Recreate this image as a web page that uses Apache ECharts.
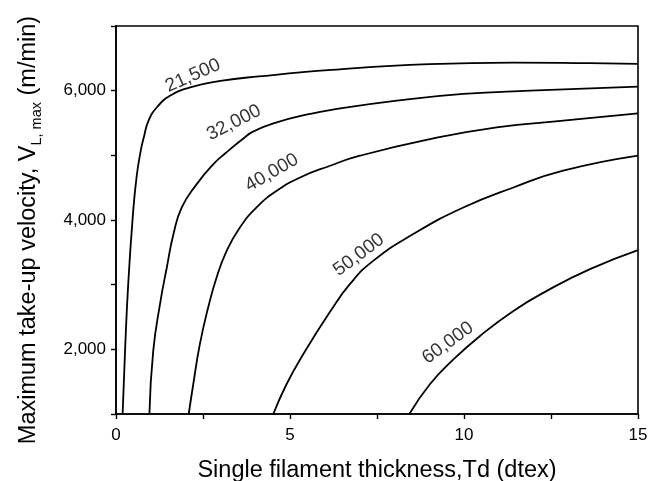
<!DOCTYPE html>
<html>
<head>
<meta charset="utf-8">
<script src="https://cdn.jsdelivr.net/npm/echarts@6/dist/echarts.min.js"></script>
<style>
    html, body { margin: 0; padding: 0; background: #fff; }
    #chart { width: 650px; height: 481px; }
</style>
</head>
<body>
<div id="chart"></div>
<script>
// curve values: [Td (dtex), V (m/min)]
var curveNames = ['21,500', '32,000', '40,000', '50,000', '60,000'];
var c21500 = [[0.19, 1000], [0.26, 1975], [0.35, 3000], [0.48, 4040], [0.59, 4660], [0.71, 5070], [0.8, 5280], [0.93, 5530], [1.17, 5740], [1.55, 5920], [2.13, 6050], [3.0, 6150], [4.1, 6220], [6.2, 6320], [9.0, 6410], [11.4, 6435], [13.6, 6425], [15, 6415]];
var c32000 = [[0.96, 1000], [1.07, 1975], [1.28, 2750], [1.46, 3265], [1.65, 3780], [1.89, 4195], [2.32, 4555], [2.8, 4865], [3.16, 5040], [3.66, 5260], [3.95, 5370], [4.62, 5510], [5.57, 5640], [6.15, 5700], [8.07, 5845], [9.98, 5949], [11.9, 6000], [15, 6062]];
var c40000 = [[2.09, 1000], [2.22, 1460], [2.41, 2080], [2.65, 2650], [2.89, 3110], [3.18, 3523], [3.56, 3884], [4.04, 4195], [4.62, 4452], [5.29, 4658], [6.15, 4839], [7.01, 4994], [9.02, 5250], [10.94, 5432], [12.85, 5536], [15, 5650]];
var c50000 = [[4.52, 1000], [4.9, 1460], [5.38, 1924], [6.15, 2580], [6.72, 3008], [7.39, 3368], [8.54, 3782], [9.98, 4193], [11.42, 4503], [12.85, 4762], [15, 4994]];
var c60000 = [[8.43, 1000], [9.02, 1460], [9.69, 1840], [10.46, 2207], [11.42, 2594], [12.38, 2904], [13.62, 3240], [15, 3534]];
var curves = [c21500, c32000, c40000, c50000, c60000];

// where each curve label sits, and its slope in degrees
var labelAt = [[2.21, 6232], [3.39, 5505], [4.48, 4731], [6.98, 3461], [9.54, 2099]];
var labelAngle = [24, 27, 30, 37, 36];

var xTicks = [0, 5, 10, 15];
var yTicks = [2000, 4000, 6000];

var chart = echarts.init(document.getElementById('chart'));
var font = 'Liberation Sans';

var series = curves.map(function(c, i) {
    return {
        name: curveNames[i],
        type: 'line',
        data: c,
        showSymbol: false,
        smooth: 0.5,
        lineStyle: { color: '#000', width: 1.8 },
        silent: true,
        z: 3
    };
});

series.push({
    type: 'scatter',
    symbolSize: 0,
    silent: true,
    data: labelAt.map(function(p, i) {
        return {
            value: p,
            name: curveNames[i],
            label: { rotate: labelAngle[i] }
        };
    }),
    label: {
        show: true,
        position: 'inside',
        formatter: '{b}',
        color: '#000',
        fontSize: 19,
        fontFamily: font
    },
    z: 4
});

var option = {
    animation: false,
    backgroundColor: '#fff',
    textStyle: { fontFamily: font, fontSize: 17, color: '#000' },
    grid: {
        left: 116,
        right: 12,
        top: 26,
        bottom: 67,
        containLabel: false,
        outerBoundsMode: 'none',
        show: true,
        borderColor: '#000',
        borderWidth: 1.6,
        backgroundColor: 'transparent'
    },
    xAxis: {
        type: 'value',
        min: 0,
        max: 15,
        interval: 2.5,
        name: 'Single filament thickness,Td (dtex)',
        nameLocation: 'middle',
        nameGap: 45,
        nameTextStyle: { color: '#000', fontSize: 23.5, fontFamily: font },
        axisLine: { show: true, onZero: false, lineStyle: { color: '#000', width: 1.6 } },
        axisTick: { show: true, inside: false, length: 5, lineStyle: { color: '#000', width: 1.4 } },
        axisLabel: {
            show: true,
            color: '#000',
            fontSize: 17,
            fontFamily: font,
            margin: 13,
            formatter: function(v) {
                return xTicks.indexOf(v) >= 0 ? String(v) : '';
            }
        },
        splitLine: { show: false }
    },
    yAxis: {
        type: 'value',
        min: 1000,
        max: 7000,
        interval: 1000,
        name: 'Maximum take-up velocity, V{sub|L, max} (m/min)',
        nameLocation: 'middle',
        nameGap: 72,
        nameTextStyle: {
            color: '#000',
            fontSize: 23.5,
            fontFamily: font,
            lineHeight: 30,
            padding: [0, 20, 0, 0],
            rich: {
                sub: { fontSize: 14.5, fontFamily: font, color: '#000', lineHeight: 16, verticalAlign: 'bottom' }
            }
        },
        axisLine: { show: true, onZero: false, lineStyle: { color: '#000', width: 1.6 } },
        axisTick: { show: true, inside: false, length: 5, lineStyle: { color: '#000', width: 1.4 } },
        axisLabel: {
            show: true,
            color: '#000',
            fontSize: 17,
            fontFamily: font,
            margin: 10,
            formatter: function(v) {
                return yTicks.indexOf(v) >= 0 ? v.toLocaleString('en-US') : '';
            }
        },
        splitLine: { show: false }
    },
    series: series
};

chart.setOption(option);
</script>
</body>
</html>
